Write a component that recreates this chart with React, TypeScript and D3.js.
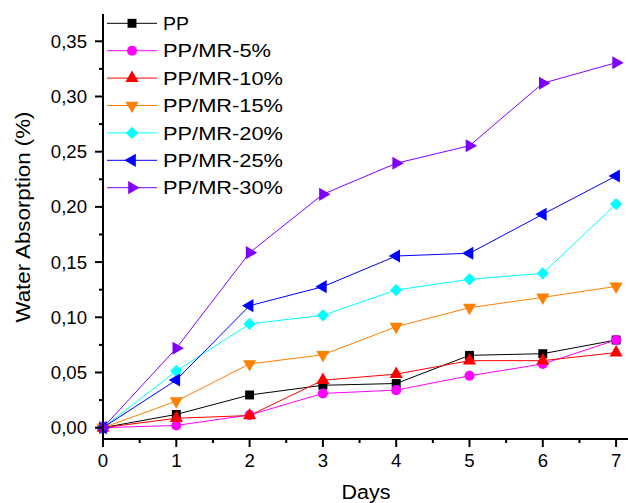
import React from "react";
import * as d3 from "d3";

const days = [0, 1, 2, 3, 4, 5, 6, 7];
const seriesNames = ["PP", "PP/MR-5%", "PP/MR-10%", "PP/MR-15%", "PP/MR-20%", "PP/MR-25%", "PP/MR-30%"];
const pp = [0, 0.012, 0.0296, 0.0384, 0.04, 0.0655, 0.067, 0.0794];
const mr5 = [0, 0.002, 0.0115, 0.031, 0.034, 0.047, 0.0577, 0.0794];
const mr10 = [0, 0.0085, 0.011, 0.043, 0.0485, 0.0607, 0.0607, 0.068];
const mr15 = [0, 0.024, 0.0577, 0.066, 0.0915, 0.1087, 0.118, 0.128];
const mr20 = [0, 0.0513, 0.094, 0.1018, 0.1247, 0.1344, 0.1398, 0.2025];
const mr25 = [0, 0.0432, 0.1105, 0.1277, 0.1555, 0.158, 0.1933, 0.228];
const mr30 = [0, 0.0719, 0.1585, 0.2114, 0.2395, 0.2554, 0.312, 0.3306];
const seriesValues = [pp, mr5, mr10, mr15, mr20, mr25, mr30];
const colors = ["#000000", "#ff00ff", "#ff0000", "#ff8000", "#00ffff", "#0000ff", "#8000ff"];
const yTicks = [0, 0.05, 0.1, 0.15, 0.2, 0.25, 0.3, 0.35];
const yMinor = [0.025, 0.075, 0.125, 0.175, 0.225, 0.275, 0.325];
const xTicks = [0, 1, 2, 3, 4, 5, 6, 7];
const xMinor = [0.5, 1.5, 2.5, 3.5, 4.5, 5.5, 6.5, 7.5];

const W = 628, H = 503;
const x = d3.scaleLinear().domain([0, 7.2]).range([103, 103 + 7.2 * 73.3]);
const y = d3.scaleLinear().domain([-0.01, 0.375]).range([438.7, 13.7]);
const fmt = (v: number) => v.toFixed(2).replace(".", ",");

const shapes = [
  { type: d3.symbolSquare, size: 80, rot: 0 },
  { type: d3.symbolCircle, size: 80, rot: 0 },
  { type: d3.symbolTriangle, size: 75, rot: 0 },
  { type: d3.symbolTriangle, size: 75, rot: 180 },
  { type: d3.symbolSquare, size: 75, rot: 45 },
  { type: d3.symbolTriangle, size: 75, rot: -90 },
  { type: d3.symbolTriangle, size: 75, rot: 90 },
];

function Marker({ i, cx, cy }: { i: number; cx: number; cy: number }) {
  const s = shapes[i];
  const p = d3.symbol().type(s.type).size(s.size)()!;
  return <path d={p} transform={`translate(${cx},${cy}) rotate(${s.rot})`} fill={colors[i]} />;
}

export default function App() {
  const line = d3.line<number>().x((_, k) => x(days[k])).y((v) => y(v));
  const font = "'Liberation Sans', Arial, sans-serif";
  const legendW = [26, 108, 120, 120, 120, 120, 120];
  return (
    <svg width={W} height={H} style={{ position: "absolute", left: 0, top: 0, background: "#fff" }}>
      <rect width={W} height={H} fill="#fff" />
      {seriesValues.map((vals, i) => (
        <g key={i}>
          <path d={line(vals)!} fill="none" stroke={colors[i]} strokeWidth={1} />
          {vals.map((v, k) => (
            <Marker key={k} i={i} cx={x(days[k])} cy={y(v)} />
          ))}
        </g>
      ))}
      {/* axes */}
      <line x1={103} x2={103} y1={14} y2={439.7} stroke="#000" strokeWidth={2} />
      <line x1={102} x2={W} y1={439} y2={439} stroke="#000" strokeWidth={2} />
      {yTicks.map((t) => (
        <g key={t}>
          <line x1={95} x2={103} y1={y(t)} y2={y(t)} stroke="#000" strokeWidth={2} />
          <text x={87} y={y(t)} textAnchor="end" dominantBaseline="central" fontFamily={font} fontSize={18.6}>
            {fmt(t)}
          </text>
        </g>
      ))}
      {yMinor.map((t) => (
        <line key={t} x1={99} x2={103} y1={y(t)} y2={y(t)} stroke="#000" strokeWidth={2} />
      ))}
      {xTicks.map((t) => (
        <g key={t}>
          <line x1={x(t)} x2={x(t)} y1={439} y2={447} stroke="#000" strokeWidth={2} />
          <text x={x(t)} y={467} textAnchor="middle" fontFamily={font} fontSize={18.6}>
            {t}
          </text>
        </g>
      ))}
      {xMinor.map((t) => (
        <line key={t} x1={x(t)} x2={x(t)} y1={439} y2={443} stroke="#000" strokeWidth={2} />
      ))}
      {/* titles */}
      <text
        transform="translate(30,217) rotate(-90)"
        textAnchor="middle"
        fontFamily={font}
        fontSize={19.5}
        textLength={211}
        lengthAdjust="spacingAndGlyphs"
      >
        Water Absorption (%)
      </text>
      <text x={366} y={499} textAnchor="middle" fontFamily={font} fontSize={20} textLength={49} lengthAdjust="spacingAndGlyphs">
        Days
      </text>
      {/* legend */}
      {seriesNames.map((name, i) => {
        const ly = 23.3 + i * 27.4;
        return (
          <g key={name}>
            <line x1={107} x2={157} y1={ly} y2={ly} stroke={colors[i]} strokeWidth={1} />
            <Marker i={i} cx={132} cy={ly} />
            <text
              x={163}
              y={ly + 6.7}
              fontFamily={font}
              fontSize={18.6}
              textLength={legendW[i]}
              lengthAdjust="spacingAndGlyphs"
            >
              {name}
            </text>
          </g>
        );
      })}
    </svg>
  );
}
